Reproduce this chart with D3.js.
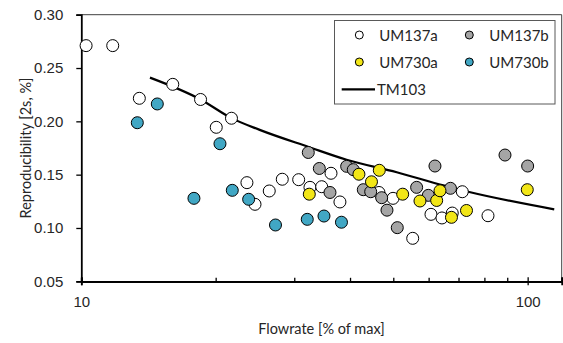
<!DOCTYPE html>
<html>
<head>
<meta charset="utf-8">
<script src="https://cdn.jsdelivr.net/npm/d3@7"></script>
<style>
  body { margin: 0; background: #fff; }
  svg { font-family: Lato, "Open Sans", sans-serif; }
  .axis text { fill: #262626; font-size: 15px; }
</style>
</head>
<body>
<svg id="chart" width="563" height="343"></svg>
<script>
// flowrate [% of max], reproducibility [2s, %]
const um137aX = [10.25, 11.76, 13.49, 16.03, 18.5, 20.06, 21.7, 23.5, 24.5, 26.37, 28.2, 30.69, 32.53, 34.56, 36.26, 37.97, 46.44, 49.93, 55.27, 60.73, 64.27, 67.78, 71.38, 81.5];
const um137aY = [0.271, 0.271, 0.2216, 0.2347, 0.2205, 0.1944, 0.2029, 0.1425, 0.1222, 0.1347, 0.1457, 0.1453, 0.1381, 0.1387, 0.1513, 0.1244, 0.1333, 0.1278, 0.0903, 0.1128, 0.1094, 0.114, 0.134, 0.1115];

const um137bX = [32.25, 34.14, 36.07, 39.31, 40.67, 42.83, 44.5, 47.09, 48.4, 51.04, 56.4, 59.9, 61.99, 67.15, 88.97, 100];
const um137bY = [0.1708, 0.1558, 0.1333, 0.1578, 0.1547, 0.1359, 0.134, 0.1284, 0.1167, 0.1003, 0.1381, 0.1306, 0.1581, 0.1372, 0.1684, 0.1581];

const um730aX = [32.42, 41.88, 44.68, 46.52, 52.48, 57.38, 62.54, 63.62, 67.5, 72.94, 99.8];
const um730aY = [0.1317, 0.1504, 0.1433, 0.1541, 0.1317, 0.1253, 0.1258, 0.1349, 0.11, 0.1164, 0.1359];

const um730bX = [13.35, 14.8, 17.88, 20.45, 21.79, 23.71, 27.23, 32.08, 34.97, 38.27];
const um730bY = [0.1987, 0.2163, 0.1278, 0.179, 0.1353, 0.1269, 0.1028, 0.1081, 0.1112, 0.1054];

const tm103X = [14.25, 18.5, 21.7, 25.1, 32.3, 39.3, 50.9, 64.7, 73.6, 114.7];
const tm103Y = [0.241, 0.2205, 0.203, 0.192, 0.176, 0.164, 0.1523, 0.140, 0.134, 0.1175];

const xTicks = [10, 100];
const xMinorTicks = [20, 30, 40, 50, 60, 70, 80, 90];
const yTicks = [0.05, 0.10, 0.15, 0.20, 0.25, 0.30];
const xMax = 119.2;

const series = [
    {name: "UM137a", xs: um137aX, ys: um137aY, fill: "#ffffff"},
    {name: "UM137b", xs: um137bX, ys: um137bY, fill: "#a5a5a5"},
    {name: "UM730a", xs: um730aX, ys: um730aY, fill: "#f2e617"},
    {name: "UM730b", xs: um730bX, ys: um730bY, fill: "#41a7c4"}
];

const svg = d3.select("#chart");
const plot = {left: 81.3, right: 561.7, top: 14.7, bottom: 281.3};

const x = d3.scaleLog().domain([10, xMax]).range([plot.left, plot.right]);
const y = d3.scaleLinear().domain([0.05, 0.30]).range([plot.bottom, plot.top]);

// plot frame (top/right)
svg.append("path")
    .attr("d", `M${plot.left},${plot.top} H${plot.right} V${plot.bottom}`)
    .attr("fill", "none")
    .attr("stroke", "#404040")
    .attr("stroke-width", 1);

// x axis
const xAxis = svg.append("g")
    .attr("class", "axis")
    .attr("transform", `translate(0,${plot.bottom})`)
    .call(d3.axisBottom(x).tickValues(xTicks).tickFormat(d3.format("d")).tickSize(4).tickPadding(11));
xAxis.append("g")
    .call(d3.axisBottom(x).tickValues(xTicks).tickFormat("").tickSize(-4));
xAxis.append("g")
    .call(d3.axisBottom(x).tickValues(xMinorTicks).tickFormat("").tickSize(-3.5));
xAxis.selectAll(".domain").attr("stroke", "#000").attr("stroke-width", 1.8);
xAxis.selectAll(".tick line").attr("stroke", "#000").attr("stroke-width", 1.3);

// y axis
const yAxis = svg.append("g")
    .attr("class", "axis")
    .attr("transform", `translate(${plot.left},0)`)
    .call(d3.axisLeft(y).tickValues(yTicks).tickFormat(d3.format(".2f")).tickSize(5).tickPadding(13));
yAxis.select(".domain").attr("stroke", "#000").attr("stroke-width", 1.8);
yAxis.selectAll(".tick line").attr("stroke", "#000").attr("stroke-width", 1.3);
xAxis.selectAll("text").attr("font-family", null).attr("font-size", null);
yAxis.selectAll("text").attr("font-family", null).attr("font-size", null);

// axis titles
svg.append("text")
    .attr("x", (plot.left + plot.right) / 2)
    .attr("y", 334)
    .attr("text-anchor", "middle")
    .attr("font-size", 14.5)
    .attr("fill", "#262626")
    .text("Flowrate [% of max]");

svg.append("text")
    .attr("transform", `translate(25,${(plot.top + plot.bottom) / 2}) rotate(-90)`)
    .attr("text-anchor", "middle")
    .attr("dominant-baseline", "central")
    .attr("font-size", 14.5)
    .attr("fill", "#262626")
    .text("Reproducibility [2s, %]");

// TM103 line
const tmData = tm103X.map((v, i) => [v, tm103Y[i]]);
svg.append("path")
    .datum(tmData)
    .attr("fill", "none")
    .attr("stroke", "#000")
    .attr("stroke-width", 2.2)
    .attr("d", d3.line().x(d => x(d[0])).y(d => y(d[1])).curve(d3.curveMonotoneX));

// markers
series.forEach(s => {
    svg.append("g")
        .selectAll("circle")
        .data(s.xs.map((v, i) => [v, s.ys[i]]))
        .join("circle")
        .attr("cx", d => x(d[0]))
        .attr("cy", d => y(d[1]))
        .attr("r", 6)
        .attr("fill", s.fill)
        .attr("stroke", "#000")
        .attr("stroke-width", 1);
});

// legend
const legend = svg.append("g");
legend.append("rect")
    .attr("x", 334.5).attr("y", 20.5)
    .attr("width", 220.5).attr("height", 83.5)
    .attr("fill", "#fff")
    .attr("stroke", "#595959")
    .attr("stroke-width", 1);

const legendPos = [[359.3, 35], [469.3, 35], [359.3, 62], [469.3, 62]];
series.forEach((s, i) => {
    const [lx, ly] = legendPos[i];
    legend.append("circle")
        .attr("cx", lx).attr("cy", ly).attr("r", 4)
        .attr("fill", s.fill)
        .attr("stroke", "#000")
        .attr("stroke-width", 1);
    legend.append("text")
        .attr("x", lx + 20).attr("y", ly)
        .attr("dominant-baseline", "central")
        .attr("font-size", 15)
        .attr("fill", "#262626")
        .text(s.name);
});
legend.append("line")
    .attr("x1", 341.7).attr("x2", 375)
    .attr("y1", 89.3).attr("y2", 89.3)
    .attr("stroke", "#000").attr("stroke-width", 2.2);
legend.append("text")
    .attr("x", 377).attr("y", 89.3)
    .attr("dominant-baseline", "central")
    .attr("font-size", 15)
    .attr("fill", "#262626")
    .text("TM103");
</script>
</body>
</html>
